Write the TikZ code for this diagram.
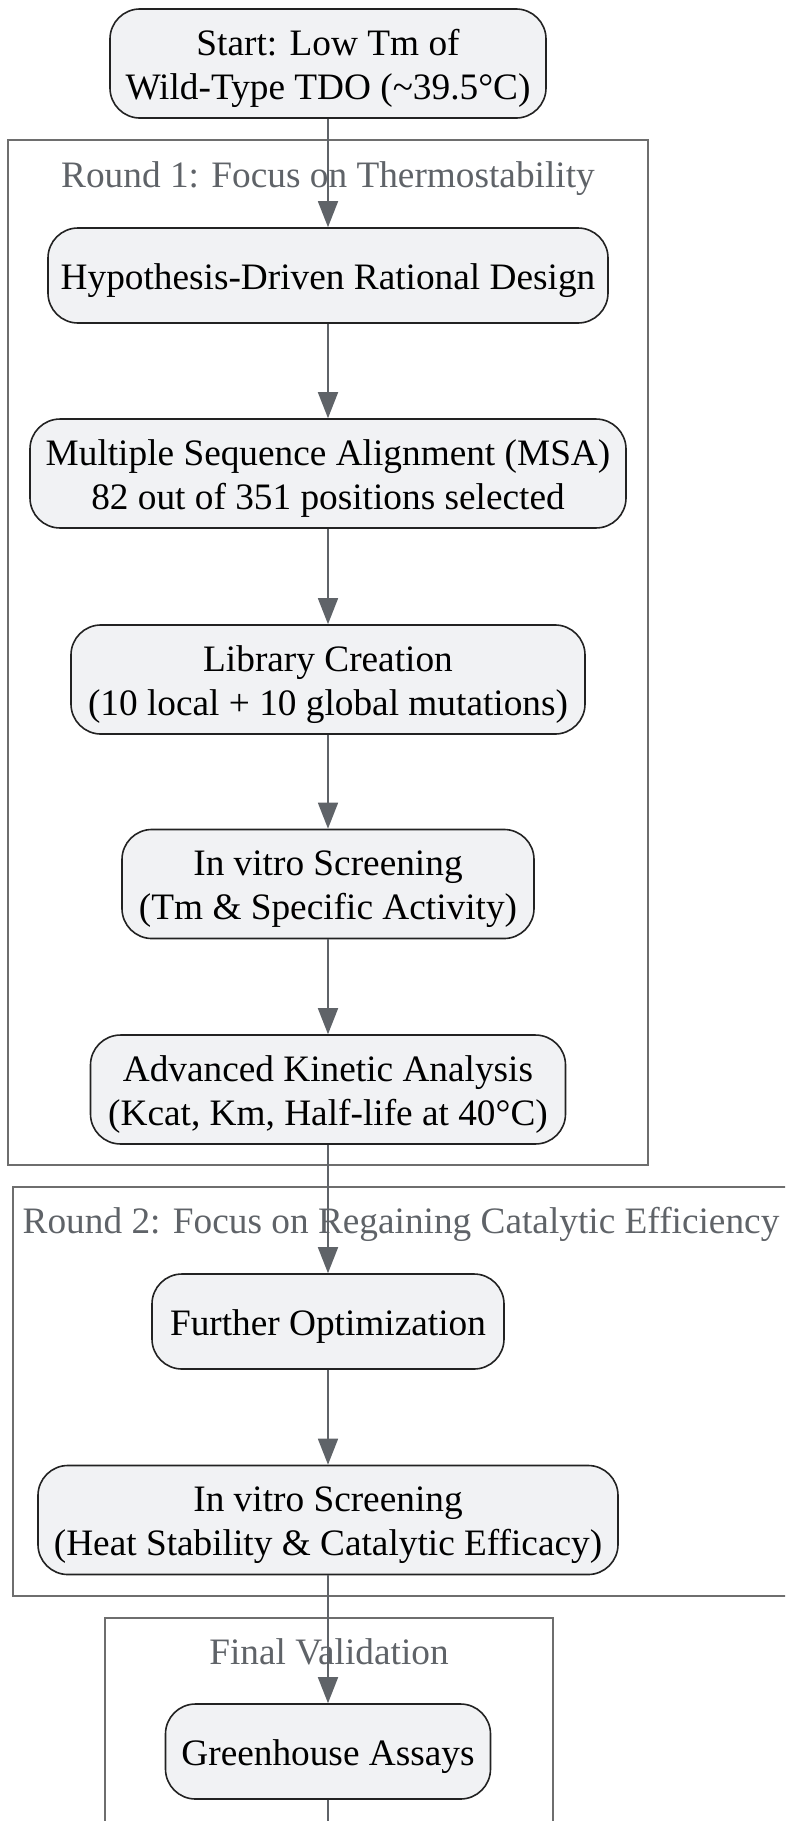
\documentclass[tikz,border=0pt]{standalone}
\usepackage{fontspec}
\setmainfont{Liberation Serif}
\usetikzlibrary{arrows.meta}
\definecolor{boxfill}{HTML}{F1F2F4}
\definecolor{boxline}{HTML}{222222}
\definecolor{flowgray}{HTML}{5F6368}
\definecolor{groupline}{HTML}{6E6E6E}
\newcommand{\topstrut}{\rule{0pt}{36pt}}
\begin{document}
\begin{tikzpicture}[x=1pt,y=-1pt,
  stepbox/.style={draw=boxline,fill=boxfill,line width=1.6pt,rounded corners=30pt,align=center,
    inner xsep=12pt,inner ysep=10.5pt,minimum height=95pt,font=\fontsize{37.3}{44}\selectfont},
  group/.style={draw=groupline,line width=1.6pt},
  grouplabel/.style={text=flowgray,anchor=base,font=\fontsize{37.3}{44}\selectfont},
  flow/.style={draw=flowgray,line width=1.6pt,-{Triangle[length=26pt,width=20pt]}}]
\useasboundingbox (0,0) rectangle (785,1821);
\clip (0,0) rectangle (785,1821);
\draw [group] (8,140) rectangle (648,1165);
\draw [group] (13,1187) rectangle (789,1596);
\draw [group] (105,1618) rectangle (553,1900);
\node [grouplabel] (round1) at (328,187) {Round 1: Focus on Thermostability};
\node [grouplabel] (round2) at (401,1233) {Round 2: Focus on Regaining Catalytic Efficiency};
\node [grouplabel] (final) at (329,1664) {Final Validation};
\node [stepbox,minimum width=436pt] (start) at (328,63.5) {\topstrut Start: Low Tm of\\Wild-Type TDO (\textasciitilde39.5°C)};
\node [stepbox,minimum width=560pt] (hyp) at (328,275.5) {\topstrut Hypothesis-Driven Rational Design};
\node [stepbox,minimum width=596pt] (msa) at (328,473.5) {\topstrut Multiple Sequence Alignment (MSA)\\82 out of 351 positions selected};
\node [stepbox,minimum width=514pt] (lib) at (328,679.5) {\topstrut Library Creation\\(10 local + 10 global mutations)};
\node [stepbox,minimum width=412pt] (screen1) at (328,884) {\topstrut In vitro Screening\\(Tm \& Specific Activity)};
\node [stepbox,minimum width=475pt] (kinetic) at (328,1089.5) {\topstrut Advanced Kinetic Analysis\\(Kcat, Km, Half-life at 40°C)};
\node [stepbox,minimum width=352pt] (further) at (328,1321.5) {\topstrut Further Optimization};
\node [stepbox,minimum width=580pt] (screen2) at (328,1520) {\topstrut In vitro Screening\\(Heat Stability \& Catalytic Efficacy)};
\node [stepbox,minimum width=325pt] (green) at (328,1751.5) {\topstrut Greenhouse Assays};
\coordinate (below) at (328,1840);
\draw [flow] (start)--(hyp);
\draw [flow] (hyp)--(msa);
\draw [flow] (msa)--(lib);
\draw [flow] (lib)--(screen1);
\draw [flow] (screen1)--(kinetic);
\draw [flow] (kinetic)--(further);
\draw [flow] (further)--(screen2);
\draw [flow] (screen2)--(green);
\draw [draw=flowgray,line width=1.6pt] (green)--(below);
\end{tikzpicture}
\end{document}
